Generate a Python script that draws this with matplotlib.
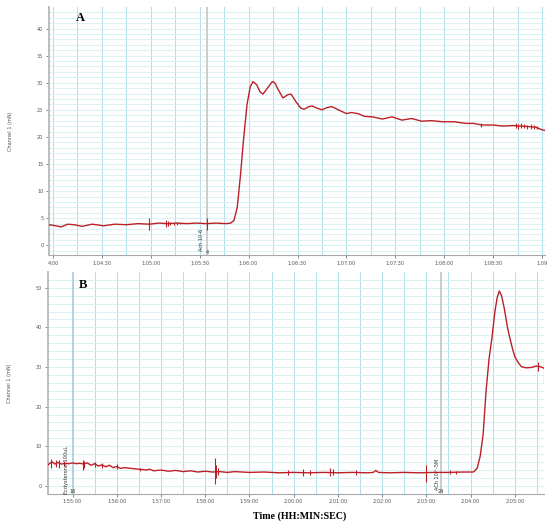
import matplotlib.pyplot as plt
import numpy as np

# Panel A: time in seconds after 1:04:00, force in mN
a_t = [-2.5, 0, 5, 9, 13, 18, 24, 31, 38, 45, 52, 59, 65, 70, 76, 82, 88, 94, 100, 106,
       109, 111, 113, 115, 117, 119, 121, 122.7, 125, 127, 128.8, 131, 134.5, 136, 138,
       141, 144, 146, 149, 152, 154, 157, 159, 162, 165, 168, 171, 175, 180, 183, 187,
       191, 196, 202, 208, 214, 220, 226, 232, 239, 246, 253, 258, 263, 270, 276, 282,
       287, 292, 296, 300, 301.8]
a_v = [3.8, 3.7, 3.4, 3.9, 3.8, 3.5, 3.9, 3.6, 3.9, 3.8, 4.0, 3.9, 4.1, 4.0, 4.1, 4.0,
       4.1, 4.0, 4.1, 4.0, 4.1, 4.6, 7.0, 13.0, 20.0, 26.0, 29.3, 30.2, 29.6, 28.3, 27.9,
       28.8, 30.2, 30.0, 28.8, 27.2, 27.8, 27.9, 26.5, 25.3, 25.1, 25.6, 25.7, 25.3, 25.0,
       25.4, 25.6, 25.0, 24.3, 24.5, 24.3, 23.8, 23.7, 23.3, 23.7, 23.1, 23.4, 22.9, 23.0,
       22.8, 22.8, 22.5, 22.5, 22.2, 22.2, 22.0, 22.1, 22.0, 21.9, 21.8, 21.3, 21.2]
a_spike_t = [59, 69.5, 70.5, 72, 74, 76, 78, 94.3, 262.7, 284, 285.5, 287, 289, 291, 293, 295, 297]
a_spike_lo = [2.8, 3.4, 3.5, 3.7, 3.8, 3.8, 3.9, 2.8, 21.8, 21.6, 21.5, 21.6, 21.7, 21.5, 21.4, 21.5, 21.4]
a_spike_hi = [5.0, 4.6, 4.5, 4.3, 4.2, 4.3, 4.2, 5.0, 22.6, 22.6, 22.4, 22.5, 22.3, 22.2, 22.4, 22.2, 22.1]
a_ticks = [0, 30, 60, 90, 120, 150, 180, 210, 240, 270, 300]
a_ticklabels = ['4:00', '1:04:30', '1:05:00', '1:05:30', '1:06:00', '1:06:30', '1:07:00',
                '1:07:30', '1:08:00', '1:08:30', '1:09']
a_event_t = 94.3

# Panel B: time in seconds after 1:55:00
b_t = [-33.5, -30, -27, -24, -20, -15, -10, -5, 0, 5, 10, 15, 20, 25, 30, 35, 40, 45, 50,
       55, 60, 65, 70, 80, 90, 100, 105, 110, 120, 130, 140, 150, 160, 170, 180, 190, 200,
       210, 220, 240, 260, 280, 300, 320, 340, 360, 380, 400, 408, 411.5, 415, 430, 450,
       470, 490, 510, 530, 544, 549, 553, 557, 561, 565, 569, 573, 576, 579, 582, 586, 590,
       593, 597, 600, 605, 609, 615, 623, 628, 632, 636, 639.5]
b_v = [5.3, 5.8, 6.0, 5.5, 5.9, 5.5, 5.7, 5.6, 5.8, 5.6, 5.7, 5.5, 5.8, 5.2, 5.6, 5.0,
       5.3, 4.8, 5.2, 4.6, 4.9, 4.4, 4.6, 4.4, 4.2, 4.0, 4.2, 3.8, 4.0, 3.7, 3.9, 3.6, 3.8,
       3.5, 3.7, 3.5, 3.6, 3.4, 3.6, 3.4, 3.5, 3.3, 3.4, 3.3, 3.4, 3.3, 3.4, 3.3, 3.4, 3.9,
       3.4, 3.3, 3.4, 3.3, 3.4, 3.4, 3.5, 3.5, 4.5, 7.5, 13.0, 24.0, 32.0, 37.5, 44.0, 47.5,
       49.2, 48.0, 44.5, 40.0, 37.5, 34.5, 32.6, 31.0, 30.1, 29.8, 29.9, 30.2, 30.2, 30.0, 29.7]
b_spike_t = [-29, -23, -18, -11, 14.5, 16, 31, 40, 60, 91, 193, 195, 197, 292.5, 313, 322,
             349, 353, 384, 479.5, 512, 520, 632, 639]
b_spike_lo = [4.6, 4.8, 4.5, 5.0, 4.0, 4.6, 4.7, 4.6, 4.3, 3.8, 0.5, 2.0, 2.8, 2.8, 2.6, 2.8,
              2.5, 2.7, 2.8, 1.0, 3.0, 3.1, 29.0, 26.0]
b_spike_hi = [6.8, 6.5, 6.6, 6.4, 6.5, 6.2, 6.0, 5.8, 5.4, 4.6, 7.0, 5.2, 4.5, 4.0, 4.3, 4.0,
              4.4, 4.2, 4.0, 5.3, 3.9, 3.8, 31.2, 32.0]
b_ticks = [0, 60, 120, 180, 240, 300, 360, 420, 480, 540, 600]
b_ticklabels = ['1:55:00', '1:56:00', '1:57:00', '1:58:00', '1:59:00', '2:00:00',
                '2:01:00', '2:02:00', '2:03:00', '2:04:00', '2:05:00']
b_event_t = [0, 499.6]

red = '#bb2027'
tick_font = 3.6


def style_axes(ax, xlim, ylim, xgrid, ygrid, yticks, xticks, xlabels):
    ax.set_xlim(*xlim)
    ax.set_ylim(*ylim)
    for x in np.arange(xgrid[0], xlim[1], xgrid[1]):
        ax.axvline(x, color='#b2e1e9', lw=0.75, zorder=0)
    for y in np.arange(ygrid[0], ylim[1], ygrid[1]):
        ax.axhline(y, color='#d6eff3', lw=0.6, zorder=0)
    ax.set_yticks(yticks)
    ax.set_xticks(xticks)
    ax.set_xticklabels(xlabels)
    ax.tick_params(labelsize=tick_font, colors='#555555', length=2, width=0.5, pad=2)
    for s in ['top', 'right']:
        ax.spines[s].set_visible(False)
    ax.spines['left'].set_color('#b8b8b8')
    ax.spines['left'].set_linewidth(1.3)
    ax.spines['bottom'].set_color('#a8a8a8')
    ax.spines['bottom'].set_linewidth(0.8)
    ax.set_ylabel('Channel 1 (mN)', fontsize=tick_font, color='#555555', labelpad=17)


fig = plt.figure(figsize=(5.5, 5.27), dpi=100)
ax1 = fig.add_axes([0.089, 0.516, 0.902, 0.471])
ax2 = fig.add_axes([0.087, 0.063, 0.902, 0.421])

# A
style_axes(ax1, (-2.5, 301.8), (-1.8, 44), (0, 15), (-1, 1), range(0, 45, 5), a_ticks, a_ticklabels)
ax1.axvline(a_event_t, color='#c8c8c8', lw=1.3, zorder=1)
ax1.plot(a_t, a_v, color=red, lw=1.0, zorder=3)
ax1.vlines(a_spike_t, a_spike_lo, a_spike_hi, color=red, lw=0.8, zorder=3)
ax1.text(a_event_t - 3, 3.0, 'Ach 10-6', rotation=90, fontsize=tick_font, ha='center', va='top', color='#333333')
ax1.text(a_event_t + 0.5, -1.3, '4', fontsize=tick_font, ha='center', va='center', color='#333333')
ax1.text(0.055, 0.955, 'A', transform=ax1.transAxes, fontsize=9, fontweight='bold',
         family='Liberation Serif', va='center')

# B
style_axes(ax2, (-33.5, 639.5), (-2, 54), (0, 30), (0, 2), range(0, 55, 10), b_ticks, b_ticklabels)
ax2.axvline(b_event_t[0], color='#a9d5de', lw=1.3, zorder=1)
ax2.axvline(b_event_t[1], color='#c8c8c8', lw=1.3, zorder=1)
ax2.plot(b_t, b_v, color=red, lw=1.0, zorder=3)
ax2.vlines(b_spike_t, b_spike_lo, b_spike_hi, color=red, lw=0.8, zorder=3)
ax2.text(b_event_t[0] - 8, 10.0, 'Ecdysterone 100uL', rotation=90, fontsize=tick_font, ha='center', va='top', color='#333333')
ax2.text(b_event_t[0], -1.4, '16', fontsize=tick_font, ha='center', va='center', color='#333333')
ax2.text(b_event_t[1] - 5, 7.0, 'ACh 10^-5M', rotation=90, fontsize=tick_font, ha='center', va='top', color='#333333')
ax2.text(b_event_t[1], -1.5, '24', fontsize=tick_font, ha='center', va='center', color='#333333')
ax2.text(0.062, 0.94, 'B', transform=ax2.transAxes, fontsize=9, fontweight='bold',
         family='Liberation Serif', va='center')

fig.text(0.544, 0.021, 'Time (HH:MIN:SEC)', fontsize=7.2, fontweight='bold',
         family='Liberation Serif', ha='center', va='center')

fig.savefig('out.png', dpi=100)
